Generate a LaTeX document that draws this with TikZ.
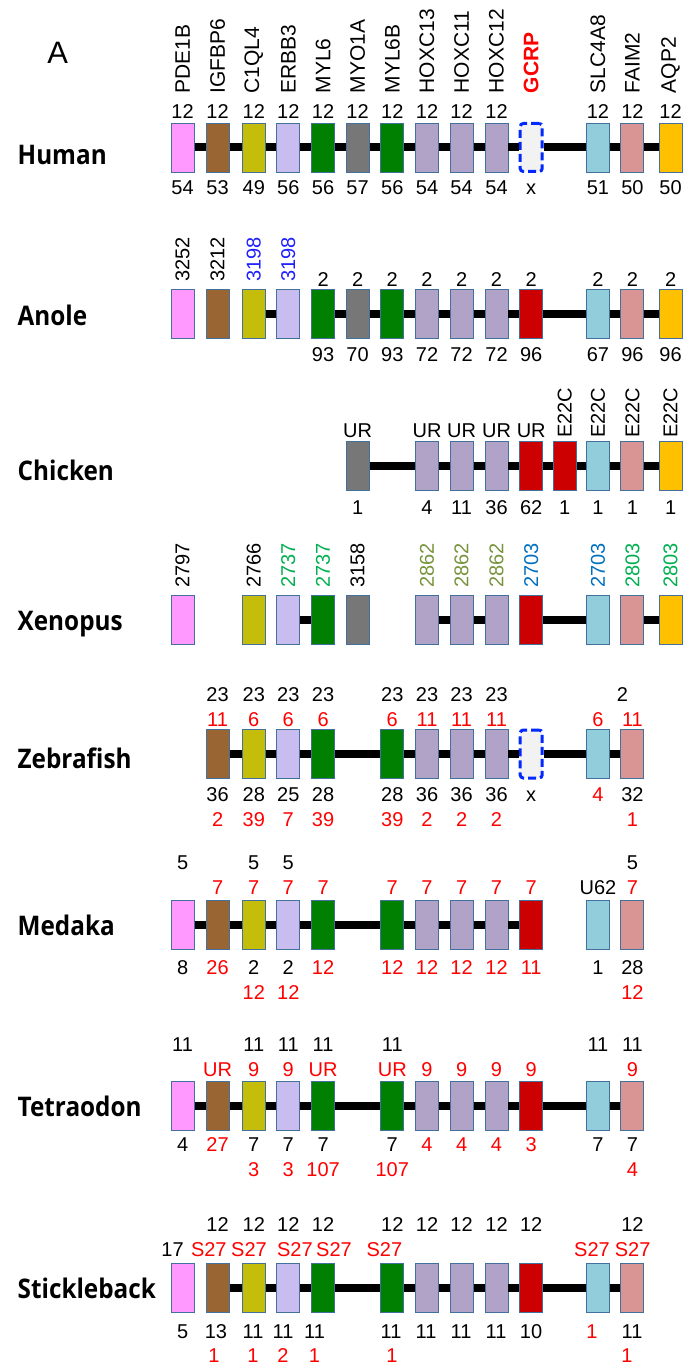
\documentclass[tikz,border=0pt]{standalone}
\usepackage{fontspec}
\setmainfont{Liberation Sans}
\newfontfamily\speciesfont{Open Sans}

\definecolor{boxline}{RGB}{65,113,156}
\definecolor{pdecol}{RGB}{255,153,255}
\definecolor{igfcol}{RGB}{153,102,51}
\definecolor{c1qcol}{RGB}{196,189,9}
\definecolor{erbcol}{RGB}{201,189,240}
\definecolor{mylcol}{RGB}{0,128,0}
\definecolor{myocol}{RGB}{119,119,119}
\definecolor{hoxcol}{RGB}{177,162,199}
\definecolor{gcrcol}{RGB}{204,0,0}
\definecolor{slccol}{RGB}{146,205,220}
\definecolor{faimcol}{RGB}{217,149,148}
\definecolor{aqpcol}{RGB}{255,192,0}
\definecolor{lostblue}{RGB}{0,40,255}
\definecolor{lostfill}{RGB}{242,242,242}
\definecolor{numred}{RGB}{255,0,0}
\definecolor{numblue}{RGB}{30,30,255}
\definecolor{xgreen}{RGB}{0,176,80}
\definecolor{xolive}{RGB}{119,147,60}
\definecolor{xblue}{RGB}{0,112,192}

% box centres of the gene columns
\def\colx{{0,182.6,217.6,253.8,288.3,323.1,357.6,392.3,427,461.6,496.5,531.2,564.7,597.9,632.4,670.6}}

\tikzset{
  gene/.style={draw=boxline, line width=0.9pt, minimum width=23pt, minimum height=49pt, inner sep=0pt},
  pde/.style={gene, fill=pdecol},
  igf/.style={gene, fill=igfcol},
  c1q/.style={gene, fill=c1qcol},
  erb/.style={gene, fill=erbcol},
  myl/.style={gene, fill=mylcol},
  myo/.style={gene, fill=myocol},
  hox/.style={gene, fill=hoxcol},
  gcr/.style={gene, fill=gcrcol},
  slc/.style={gene, fill=slccol},
  faim/.style={gene, fill=faimcol},
  aqp/.style={gene, fill=aqpcol},
  lost/.style={draw=lostblue, fill=lostfill, line width=3pt, dash pattern=on 8pt off 4pt,
    rounded corners=3pt, minimum width=22pt, minimum height=48pt, inner sep=0pt},
  bar/.style={line width=8pt},
  num/.style={font=\fontsize{20}{20}\selectfont, text height=14.3pt, text depth=0pt, inner sep=0pt},
  rnum/.style={num, text=numred},
  vlab/.style={font=\fontsize{20}{20}\selectfont, rotate=90, anchor=west, inner sep=0pt},
  genename/.style={vlab, font=\fontsize{21}{21}\selectfont},
  species/.style={font=\speciesfont\bfseries\fontsize{27}{27}\selectfont, xscale=0.9, anchor=base west, inner sep=0pt},
}

\begin{document}
\begin{tikzpicture}[x=1pt, y=-1pt]
    \useasboundingbox (0,0) rectangle (685,1367);

    \node[font=\fontsize{31}{31}\selectfont, anchor=base, inner sep=0pt] (panel) at (57.7,63.3) {A};

    % Human
    \node[species] (sp-hu) at (17.5,165) {Human};
    \foreach \c/\s in {1/pde,2/igf,3/c1q,4/erb,5/myl,6/myo,7/myl,8/hox,9/hox,10/hox,13/slc,14/faim,15/aqp}
        \node[\s] (hu\c) at ({\colx[\c]},147.5) {};
    \node[lost] (hu11) at ({\colx[11]},147.5) {};
    \foreach \a/\b in {1/2,2/3,3/4,4/5,5/6,6/7,7/8,8/9,9/10,10/11,11/13,13/14,14/15}
        \draw[bar] (hu\a) -- (hu\b);
    \foreach \c/\t in {1/PDE1B,2/IGFBP6,3/C1QL4,4/ERBB3,5/MYL6,6/MYO1A,7/MYL6B,8/HOXC13,9/HOXC11,10/HOXC12,13/SLC4A8,14/FAIM2,15/AQP2}
        \node[genename] (hu-n\c) at ({\colx[\c]},93.5) {\t};
    \node[genename, text=numred, font=\fontsize{21}{21}\selectfont\bfseries] (hu-n11) at ({\colx[11]},93.5) {GCRP};
    \foreach \c in {1,...,10,13,14,15}
        \node[num] (hu-t\c) at ({\colx[\c]},111.5) {12};
    \foreach \c/\t in {1/54,2/53,3/49,4/56,5/56,6/57,7/56,8/54,9/54,10/54,11/x,13/51,14/50,15/50}
        \node[num] (hu-b\c) at ({\colx[\c]},187) {\t};

    % Anole
    \node[species] (sp-an) at (17.5,325) {Anole};
    \foreach \c/\s in {1/pde,2/igf,3/c1q,4/erb,5/myl,6/myo,7/myl,8/hox,9/hox,10/hox,11/gcr,13/slc,14/faim,15/aqp}
        \node[\s] (an\c) at ({\colx[\c]},314) {};
    \foreach \a/\b in {3/4,5/6,6/7,7/8,8/9,9/10,10/11,11/13,13/14,14/15}
        \draw[bar] (an\a) -- (an\b);
    \foreach \c/\t/\s in {1/3252/black,2/3212/black,3/3198/numblue,4/3198/numblue}
        \node[vlab, text=\s] (an-n\c) at ({\colx[\c]},282) {\t};
    \foreach \c in {5,...,11,13,14,15}
        \node[num] (an-t\c) at ({\colx[\c]},279) {2};
    \foreach \c/\t in {5/93,6/70,7/93,8/72,9/72,10/72,11/96,13/67,14/96,15/96}
        \node[num] (an-b\c) at ({\colx[\c]},354) {\t};

    % Chicken
    \node[species] (sp-ch) at (17.5,480) {Chicken};
    \foreach \c/\s in {6/myo,8/hox,9/hox,10/hox,11/gcr,12/gcr,13/slc,14/faim,15/aqp}
        \node[\s] (ch\c) at ({\colx[\c]},466) {};
    \foreach \a/\b in {6/8,8/9,9/10,10/11,11/12,12/13,13/14,14/15}
        \draw[bar] (ch\a) -- (ch\b);
    \foreach \c in {6,8,9,10,11}
        \node[num] (ch-t\c) at ({\colx[\c]},430.5) {UR};
    \foreach \c in {12,...,15}
        \node[vlab] (ch-n\c) at ({\colx[\c]},438) {E22C};
    \foreach \c/\t in {6/1,8/4,9/11,10/36,11/62,12/1,13/1,14/1,15/1}
        \node[num] (ch-b\c) at ({\colx[\c]},507.5) {\t};

    % Xenopus
    \node[species] (sp-xe) at (17.5,630) {Xenopus};
    \foreach \c/\s in {1/pde,3/c1q,4/erb,5/myl,6/myo,8/hox,9/hox,10/hox,11/gcr,13/slc,14/faim,15/aqp}
        \node[\s] (xe\c) at ({\colx[\c]},620) {};
    \foreach \a/\b in {4/5,8/9,9/10,11/13,14/15}
        \draw[bar] (xe\a) -- (xe\b);
    \foreach \c/\t/\s in {1/2797/black,3/2766/black,4/2737/xgreen,5/2737/xgreen,6/3158/black,8/2862/xolive,
                          9/2862/xolive,10/2862/xolive,11/2703/xblue,13/2703/xblue,14/2803/xgreen,15/2803/xgreen}
        \node[vlab, text=\s] (xe-n\c) at ({\colx[\c]},588) {\t};

    % Zebrafish
    \node[species] (sp-ze) at (17.5,768) {Zebrafish};
    \foreach \c/\s in {2/igf,3/c1q,4/erb,5/myl,7/myl,8/hox,9/hox,10/hox,13/slc,14/faim}
        \node[\s] (ze\c) at ({\colx[\c]},754) {};
    \node[lost] (ze11) at ({\colx[11]},754) {};
    \foreach \a/\b in {2/3,3/4,4/5,5/7,7/8,8/9,9/10,10/11,11/13,13/14}
        \draw[bar] (ze\a) -- (ze\b);
    \foreach \c in {2,3,4,5,7,8,9,10}
        \node[num] (ze-t\c) at ({\colx[\c]},694.5) {23};
    \node[num] (ze-t14) at (622.5,694.5) {2};
    \foreach \c/\t in {2/11,3/6,4/6,5/6,7/6,8/11,9/11,10/11,13/6,14/11}
        \node[rnum] (ze-r\c) at ({\colx[\c]},719.5) {\t};
    \foreach \c/\t/\s in {2/36/num,3/28/num,4/25/num,5/28/num,7/28/num,8/36/num,9/36/num,10/36/num,11/x/num,13/4/rnum,14/32/num}
        \node[\s] (ze-b\c) at ({\colx[\c]},794) {\t};
    \foreach \c/\t in {2/2,3/39,4/7,5/39,7/39,8/2,9/2,10/2,14/1}
        \node[rnum] (ze-c\c) at ({\colx[\c]},819) {\t};

    % Medaka
    \node[species] (sp-me) at (17.5,935) {Medaka};
    \foreach \c/\s in {1/pde,2/igf,3/c1q,4/erb,5/myl,7/myl,8/hox,9/hox,10/hox,11/gcr,13/slc,14/faim}
        \node[\s] (me\c) at ({\colx[\c]},925) {};
    \foreach \a/\b in {1/2,2/3,3/4,4/5,5/7,7/8,8/9,9/10,10/11}
        \draw[bar] (me\a) -- (me\b);
    \foreach \c in {1,3,4,14}
        \node[num] (me-t\c) at ({\colx[\c]},862) {5};
    \foreach \c/\t/\s in {2/7/rnum,3/7/rnum,4/7/rnum,5/7/rnum,7/7/rnum,8/7/rnum,9/7/rnum,10/7/rnum,11/7/rnum,13/U62/num,14/7/rnum}
        \node[\s] (me-r\c) at ({\colx[\c]},887.5) {\t};
    \foreach \c/\t/\s in {1/8/num,2/26/rnum,3/2/num,4/2/num,5/12/rnum,7/12/rnum,8/12/rnum,9/12/rnum,10/12/rnum,11/11/rnum,13/1/num,14/28/num}
        \node[\s] (me-b\c) at ({\colx[\c]},967.5) {\t};
    \foreach \c in {3,4,14}
        \node[rnum] (me-c\c) at ({\colx[\c]},992.5) {12};

    % Tetraodon
    \node[species] (sp-te) at (17.5,1116) {Tetraodon};
    \foreach \c/\s in {1/pde,2/igf,3/c1q,4/erb,5/myl,7/myl,8/hox,9/hox,10/hox,11/gcr,13/slc,14/faim}
        \node[\s] (te\c) at ({\colx[\c]},1105.5) {};
    \foreach \a/\b in {1/2,2/3,3/4,4/5,5/7,7/8,8/9,9/10,10/11,11/13,13/14}
        \draw[bar] (te\a) -- (te\b);
    \foreach \c in {1,3,4,5,7,13,14}
        \node[num] (te-t\c) at ({\colx[\c]},1044) {11};
    \foreach \c/\t in {2/UR,3/9,4/9,5/UR,7/UR,8/9,9/9,10/9,11/9,14/9}
        \node[rnum] (te-r\c) at ({\colx[\c]},1069) {\t};
    \foreach \c/\t/\s in {1/4/num,2/27/rnum,3/7/num,4/7/num,5/7/num,7/7/num,8/4/rnum,9/4/rnum,10/4/rnum,11/3/rnum,13/7/num,14/7/num}
        \node[\s] (te-b\c) at ({\colx[\c]},1144) {\t};
    \foreach \c/\t in {3/3,4/3,5/107,7/107,14/4}
        \node[rnum] (te-c\c) at ({\colx[\c]},1169) {\t};

    % Stickleback
    \node[species] (sp-st) at (17.5,1298) {Stickleback};
    \foreach \c/\s in {1/pde,2/igf,3/c1q,4/erb,5/myl,7/myl,8/hox,9/hox,10/hox,11/gcr,13/slc,14/faim}
        \node[\s] (st\c) at ({\colx[\c]},1288) {};
    \foreach \a/\b in {2/3,3/4,4/5,5/7,7/8,8/9,9/10,10/11,11/13,13/14}
        \draw[bar] (st\a) -- (st\b);
    \foreach \c in {2,3,4,5,7,8,9,10,11,14}
        \node[num] (st-t\c) at ({\colx[\c]},1224) {12};
    \node[num] (st-r1) at (172.6,1249) {17};
    \foreach \x/\c in {208.8/2,249/3,294.9/4,334/5,384.4/7,592/13,632.6/14}
        \node[rnum] (st-r\c) at (\x,1249) {S27};
    \foreach \x/\c/\t/\s in {182.6/1/5/num,216/2/13/num,253/3/11/num,283/4/11/num,314.5/5/11/num,391/7/11/num,
                             426/8/11/num,461/9/11/num,496/10/11/num,531/11/10/num,592/13/1/rnum,632/14/11/num}
        \node[\s] (st-b\c) at (\x,1331) {\t};
    \foreach \x/\c/\t in {214/2/1,253/3/1,283/4/2,314.5/5/1,392/7/1,627/14/1}
        \node[rnum] (st-c\c) at (\x,1355.5) {\t};
\end{tikzpicture}
\end{document}
